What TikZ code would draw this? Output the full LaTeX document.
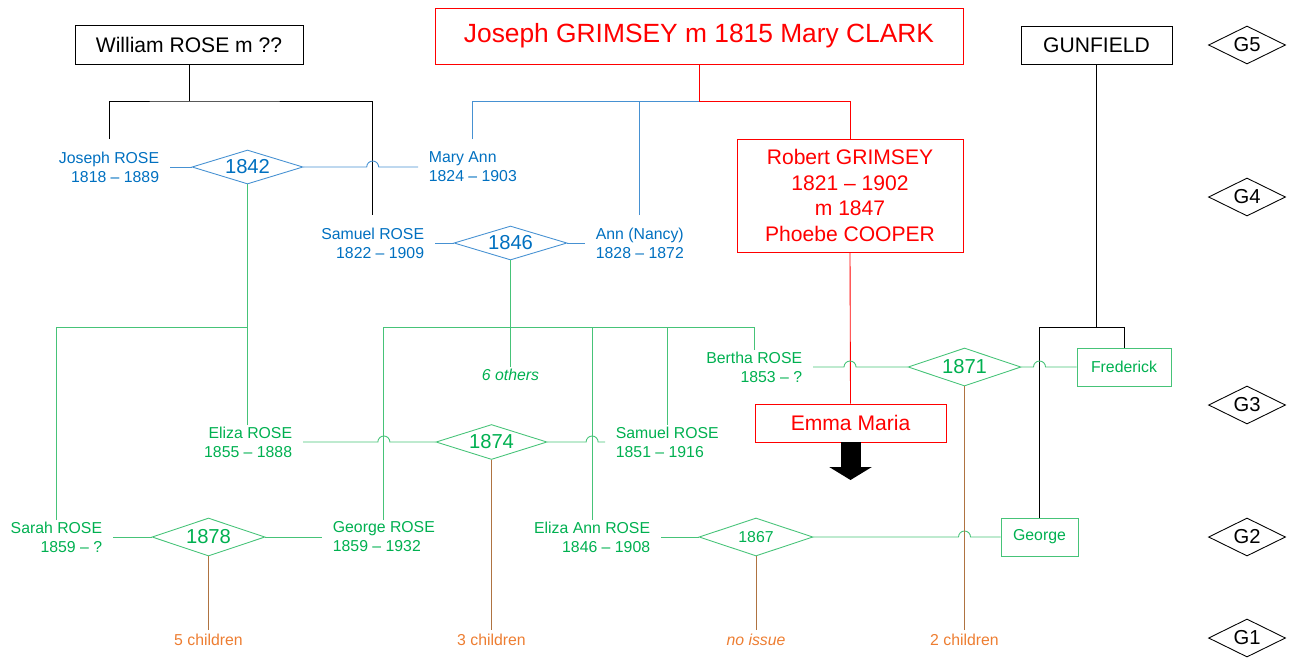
\documentclass[tikz,border=0pt]{standalone}
\usepackage{fontspec}
\setmainfont{Liberation Sans}
\usepackage{tikz}
\usetikzlibrary{arrows.meta,shapes.geometric,calc}
\definecolor{cblue}{RGB}{0,112,192}
\definecolor{cbluel}{RGB}{70,145,210}
\definecolor{cgreen}{RGB}{0,176,80}
\definecolor{cgreenl}{RGB}{70,195,120}
\definecolor{cred}{RGB}{255,0,0}
\definecolor{cbrown}{RGB}{175,115,65}
\definecolor{corange}{RGB}{237,125,49}
\tikzset{
  box/.style={draw,rectangle,align=center,inner sep=0pt,line width=0.5pt},
  hdr/.style={box,font=\fontsize{12}{14.5}\selectfont},
  pers/.style={font=\fontsize{9}{10.8}\selectfont,inner xsep=6pt},
  bpers/.style={pers,text=cblue,inner ysep=7pt},      % gen 4: gap above text
  gpers/.style={pers,text=cgreen,inner ysep=1pt},     % gen 2-3: line touches text
  wed/.style={diamond,draw,aspect=3,inner sep=0pt,line width=0.5pt,
              font=\fontsize{11.5}{13}\selectfont},
  bwed/.style={wed,draw=cbluel,text=cblue,minimum width=2.22cm,minimum height=0.68cm},
  gwed/.style={wed,draw=cgreenl,text=cgreen,minimum width=2.26cm,minimum height=0.76cm},
  gbox/.style={box,draw=cgreenl,text=cgreen,font=\fontsize{9}{10.8}\selectfont,
               minimum height=0.76cm},
  rbox/.style={box,draw=cred,text=cred,font=\fontsize{12}{14.5}\selectfont},
  gen/.style={diamond,draw,aspect=2,inner sep=0pt,line width=0.5pt,minimum width=1.54cm,
              minimum height=0.76cm,font=\fontsize{11.5}{13}\selectfont},
  kids/.style={text=corange,font=\fontsize{9}{10.8}\selectfont,inner sep=2pt},
  ln/.style={line width=0.5pt},
  kln/.style={ln,black},
  bln/.style={ln,cbluel},
  gln/.style={ln,cgreenl},
  rln/.style={ln,cred},
  oln/.style={ln,cbrown}
}
% line jump over the vertical through #2, on the horizontal through #1
\newcommand{\hop}[2]{-- ($(#1 -| #2)+(-6,0)$) arc[start angle=180,end angle=0,radius=0.12cm]}

\begin{document}
\begin{tikzpicture}[x=0.02cm,y=-0.02cm]
  \useasboundingbox (0,0) rectangle (1297,657);

  % generation 5
  \node[hdr,minimum width=4.56cm,minimum height=0.78cm] (wrose) at (189,45) {William ROSE m ??};
  \node[rbox,font=\fontsize{15}{18}\selectfont,minimum width=10.56cm,minimum height=1.12cm]
    (jgrim) at (699,36) {Joseph GRIMSEY m 1815 Mary CLARK};
  \node[hdr,minimum width=3.02cm,minimum height=0.76cm] (gunf) at (1096.5,45) {GUNFIELD};

  % generation 4
  \node[bpers,anchor=east,align=right] (jrose) at (170,167) {Joseph ROSE\\1818 -- 1889};
  \node[bwed] (m1842) at (247.5,167) {1842};
  \node[bpers,anchor=west,align=left] (maryann) at (418,167) {Mary Ann\\1824 -- 1903};
  \node[bpers,anchor=east,align=right] (srose) at (435,243) {Samuel ROSE\\1822 -- 1909};
  \node[bwed,minimum width=2.26cm] (m1846) at (510.5,243) {1846};
  \node[bpers,anchor=west,align=left] (ann) at (585,243) {Ann (Nancy)\\1828 -- 1872};
  \node[rbox,minimum width=4.52cm,minimum height=2.26cm] (robert) at (850,195.5)
    {Robert GRIMSEY\\1821 -- 1902\\m 1847\\Phoebe COOPER};

  % generation 3
  \node[gpers,anchor=east,align=right] (bertha) at (813,367) {Bertha ROSE\\1853 -- ?};
  \node[gwed] (m1871) at (964.5,367) {1871};
  \node[gbox,minimum width=1.88cm] (frederick) at (1124,367) {Frederick};
  \node[gpers,font=\fontsize{9}{10.8}\selectfont\itshape] (others) at (510.5,375) {6 others};
  \node[rbox,minimum width=3.82cm,minimum height=0.76cm] (emma) at (850.5,423) {Emma Maria};
  \coordinate (emmadown) at (850.5,480);
  \node[gpers,anchor=east,align=right] (eliza) at (303,442) {Eliza ROSE\\1855 -- 1888};
  \node[gwed,minimum width=2.22cm,minimum height=0.70cm] (m1874) at (491.5,442) {1874};
  \node[gpers,anchor=west,align=left] (samuel) at (605,442) {Samuel ROSE\\1851 -- 1916};

  % generation 2
  \node[gpers,anchor=east,align=right] (sarah) at (113,537) {Sarah ROSE\\1859 -- ?};
  \node[gwed] (m1878) at (208.5,537) {1878};
  \node[gpers,anchor=west,align=left] (george) at (322,537) {George ROSE\\1859 -- 1932};
  \node[gpers,anchor=east,align=right] (elizaann) at (661,537) {Eliza Ann ROSE\\1846 -- 1908};
  \node[gwed,font=\fontsize{9}{10.8}\selectfont,minimum width=2.28cm] (m1867) at (756,537) {1867};
  \node[gbox,minimum width=1.54cm] (georgeg) at (1039.5,537) {George};

  % generation 1
  \node[kids] (kids1878) at (208.5,640) {5 children};
  \node[kids] (kids1874) at (491.5,640) {3 children};
  \node[kids,font=\fontsize{9}{10.8}\selectfont\itshape] (kids1867) at (756,640) {no issue};
  \node[kids] (kids1871) at (964.5,640) {2 children};

  \foreach \g/\y in {5/45,4/197,3/405,2/537,1/638}
    \node[gen] (g\g) at (1247,\y) {G\g};

  % descent
  \coordinate (wbar) at (189,101);
  \coordinate (jgbar) at (699,101);
  \coordinate (rbar) at (247.5,327);
  \coordinate (sbar) at (510.5,327);
  \coordinate (gunbar) at (1096.5,327);

  \draw[kln] (wrose.south) -- (wbar);
  \draw[kln] (jrose.north) |- (wbar) -| (srose.north);
  \draw[rln] (jgrim.south) -- (jgbar) -| (robert.north);
  \draw[bln] (maryann.north) |- (jgbar);
  \draw[bln] (ann.north) -- (ann.north |- jgbar);
  \draw[kln] (gunf.south) -- (gunbar);
  \draw[kln] (georgeg.north) |- (gunbar) -| (frederick.north);

  \draw[gln] (m1842.south) -- (m1842.south |- eliza.north);
  \draw[gln] (rbar) -| (sarah.north);
  \draw[gln] (m1846.south) -- (others.north);
  \draw[gln] (george.north) |- (sbar) -| (bertha.north);
  \draw[gln] (elizaann.north) -- (elizaann.north |- sbar);
  \draw[gln] (samuel.north) -- (samuel.north |- sbar);
  \draw[rln] (robert.south) -- (emma.north);
  \draw[line width=0.4cm,-{Triangle[width=0.84cm,length=0.26cm]}] (emma.south) -- (emmadown);

  % marriages
  \draw[bln] (jrose.east) -- (m1842.west);
  \draw[bln] (m1842.east) \hop{m1842.east}{srose.north} -- (maryann.west);
  \draw[bln] (srose.east) -- (m1846.west);
  \draw[bln] (m1846.east) -- (ann.west);
  \draw[gln] (bertha.east) \hop{bertha.east}{robert.south} -- (m1871.west);
  \draw[gln] (m1871.east) \hop{m1871.east}{georgeg.north} -- (frederick.west);
  \draw[gln] (eliza.east) \hop{eliza.east}{george.north} -- (m1874.west);
  \draw[gln] (m1874.east) \hop{m1874.east}{elizaann.north} -- (samuel.west);
  \draw[gln] (sarah.east) -- (m1878.west);
  \draw[gln] (m1878.east) -- (george.west);
  \draw[gln] (elizaann.east) -- (m1867.west);
  \draw[gln] (m1867.east) \hop{m1867.east}{m1871.south} -- (georgeg.west);

  % issue
  \draw[oln] (m1878.south) -- (kids1878.north);
  \draw[oln] (m1874.south) -- (kids1874.north);
  \draw[oln] (m1867.south) -- (kids1867.north);
  \draw[oln] (m1871.south) -- (kids1871.north);
\end{tikzpicture}
\end{document}
